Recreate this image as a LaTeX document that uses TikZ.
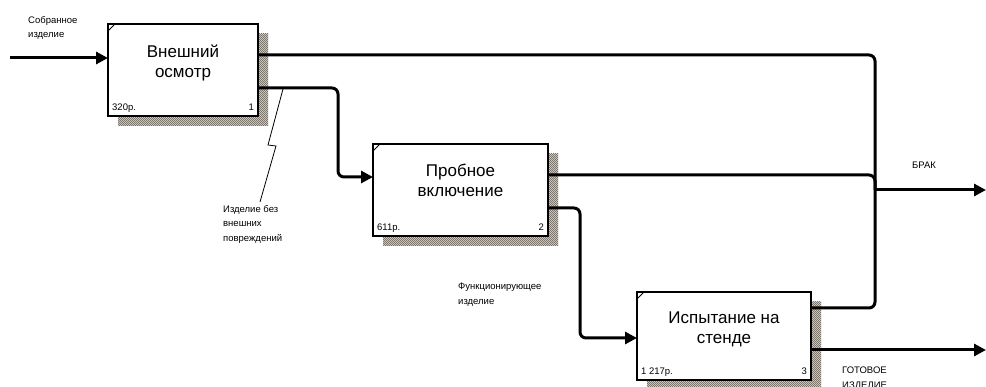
\documentclass[tikz,border=0pt]{standalone}
\usepackage{fontspec}
\setmainfont{Liberation Sans}
\usetikzlibrary{arrows.meta,patterns,calc,backgrounds}
\definecolor{shadowc}{RGB}{125,118,108}
\definecolor{shadowbg}{RGB}{228,222,210}
\pgfdeclarepatternformonly{finecheck}{\pgfpoint{-0.5pt}{-0.5pt}}{\pgfpoint{2.5pt}{2.5pt}}{\pgfpoint{2pt}{2pt}}{%
  \pgfpathrectangle{\pgfpointorigin}{\pgfpoint{1pt}{1pt}}%
  \pgfpathrectangle{\pgfpoint{1pt}{1pt}}{\pgfpoint{1pt}{1pt}}%
  \pgfusepath{fill}}
\begin{document}
\begin{tikzpicture}[x=1pt,y=-1pt,
  box/.style={draw,line width=1.5pt,fill=white,inner sep=0pt,outer sep=0pt},
  shadowfill/.style={pattern=finecheck,pattern color=shadowc},
  title/.style={font=\fontsize{17}{20}\selectfont,align=center,inner sep=0pt},
  small/.style={font=\fontsize{9.5}{14.5}\selectfont,align=left,inner sep=0pt},
  flow/.style={line width=3pt,rounded corners=6pt},
  arr/.style={-{Triangle[length=12pt,width=12pt]}},
  tick/.style={line width=1pt}]
\useasboundingbox (0,0) rectangle (986,387);
% boxes
\node[box,minimum width=150pt,minimum height=92pt] (b1) at (183,70) {};
\node[box,minimum width=175pt,minimum height=92pt] (b2) at (460.5,190) {};
\node[box,minimum width=174pt,minimum height=88pt] (b3) at (724,336) {};
\begin{scope}[on background layer]
\foreach \b in {b1,b2,b3}{
  \fill[shadowbg] ($(\b.north west)+(10,10)$) rectangle ($(\b.south east)+(10,10)$);
  \fill[shadowfill] ($(\b.north west)+(10,10)$) rectangle ($(\b.south east)+(10,10)$);
}
\end{scope}
\foreach \b in {b1,b2,b3}
  \draw[tick] ($(\b.north west)+(0,7)$) -- ($(\b.north west)+(7,0)$);
% titles
\node[title,anchor=north] (t1) at ($(b1.north)+(0,21)$) {Внешний\\осмотр};
\node[title,anchor=north] (t2) at ($(b2.north)+(0,20)$) {Пробное\\включение};
\node[title,anchor=north] (t3) at ($(b3.north)+(0,20)$) {Испытание на\\стенде};
% costs and numbers
\node[small,anchor=base west] (c1) at ($(b1.south west)+(4,-5)$) {320р.};
\node[small,anchor=base east] (n1) at ($(b1.south east)+(-4,-5)$) {1};
\node[small,anchor=base west] (c2) at ($(b2.south west)+(4,-5)$) {611р.};
\node[small,anchor=base east] (n2) at ($(b2.south east)+(-4,-5)$) {2};
\node[small,anchor=base west] (c3) at ($(b3.south west)+(4,-5)$) {1 217р.};
\node[small,anchor=base east] (n3) at ($(b3.south east)+(-4,-5)$) {3};
% labels
\node[small,anchor=north west] (lin) at (28,16) {Собранное\\изделие};
\node[small,anchor=north west] (lok) at (223,205) {Изделие без\\внешних\\повреждений};
\node[small,anchor=north west] (lfn) at (458,283) {Функционирующее\\изделие};
\node[small,anchor=north west] (lbr) at (912,162) {БРАК};
\node[small,anchor=north west] (lgo) at (842,367) {ГОТОВОЕ\\ИЗДЕЛИЕ};
% connectors
\coordinate (src) at (10,58);
\coordinate (j) at (875,190);
\coordinate (brak) at (986,190);
\coordinate (done) at (986,350);
\draw[flow,arr] (src) -- (src -| b1.west);
\draw[flow] ($(b1.north east)+(0,31)$) -| (j);
\draw[flow] ($(b2.north east)+(0,31)$) -| (j);
\draw[flow] ($(b3.north east)+(0,16)$) -| (j);
\draw[flow,arr] (j) -- (brak);
\draw[flow,arr] ($(b1.north east)+(0,64)$) -| (338,130) |- ($(b2.north west)+(0,33)$);
\draw[flow,arr] ($(b2.north east)+(0,64)$) -| (580,270) |- ($(b3.north west)+(0,46)$);
\draw[flow,arr] ($(b3.north east)+(0,58)$) -- (done);
% squiggle
\coordinate (z0) at (283,89);
\draw[line width=0.8pt] (z0) -- (268,145) -- (276,146) -- ($(lok.north west)+(37,-3)$);
\end{tikzpicture}
\end{document}
